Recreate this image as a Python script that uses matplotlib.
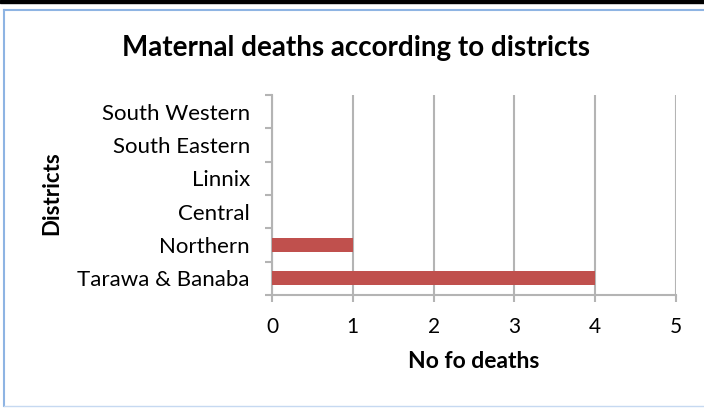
import numpy as np
import matplotlib; matplotlib.use("Agg")
import matplotlib.pyplot as plt
from matplotlib.patches import Rectangle
from matplotlib.lines import Line2D

# District counts, listed bottom to top as in the chart
districts = ["Tarawa & Banaba", "Northern", "Central", "Linnix",
             "South Eastern", "South Western"]
deaths = [4, 1, 0, 0, 0, 0]
x_ticks = [0, 1, 2, 3, 4, 5]

plt.rcParams["font.family"] = ["Lato", "DejaVu Sans"]

fig = plt.figure(figsize=(7.04, 4.08), dpi=100)
ax = fig.add_axes([0.3864, 0.2770, 0.5738, 0.4902])

grid_c = "#b4b4b4"
pos = np.arange(len(districts))
ax.barh(pos, deaths, height=0.42, color="#c0504d", zorder=3)

ax.set_xlim(0, 5)
ax.set_ylim(-0.5, len(districts) - 0.5)
ax.set_xticks(x_ticks)
ax.set_xticklabels([str(t) for t in x_ticks], fontsize=15)
ax.set_yticks(pos)
ax.set_yticklabels(districts, fontsize=16)
ax.set_yticks(np.arange(-0.5, len(districts)), minor=True)

ax.tick_params(axis="y", which="major", length=0, pad=16)
ax.tick_params(axis="y", which="minor", length=5, width=1.5, color=grid_c, direction="out")
ax.tick_params(axis="x", length=5, width=1.5, color=grid_c, pad=11)

ax.grid(axis="x", color=grid_c, lw=1.5, zorder=0)
for s in ("top", "right"):
    ax.spines[s].set_visible(False)
for s in ("left", "bottom"):
    ax.spines[s].set_color(grid_c)
    ax.spines[s].set_linewidth(1.5)

ax.set_xlabel("No fo deaths", fontsize=16.5, fontweight="bold", labelpad=10)
fig.text(0.073, 0.527, "Districts", rotation=90, fontsize=16, fontweight="bold",
         ha="center", va="center")
fig.text(0.506, 0.882, "Maternal deaths according to districts", fontsize=20,
         fontweight="bold", ha="center", va="center")

# chart frame
fig.patches.append(Rectangle((0, 0.992), 1, 0.008, transform=fig.transFigure,
                             color="black", zorder=0))
fig.lines.append(Line2D([0.006, 0.006], [0.005, 0.975], transform=fig.transFigure,
                        color="#8eb4e3", lw=1.5))
fig.lines.append(Line2D([0.006, 1], [0.975, 0.975], transform=fig.transFigure,
                        color="#8eb4e3", lw=1.5))
fig.lines.append(Line2D([0.006, 1], [0.005, 0.005], transform=fig.transFigure,
                        color="#c6d9f1", lw=1))

fig.savefig("out.png", dpi=100)
